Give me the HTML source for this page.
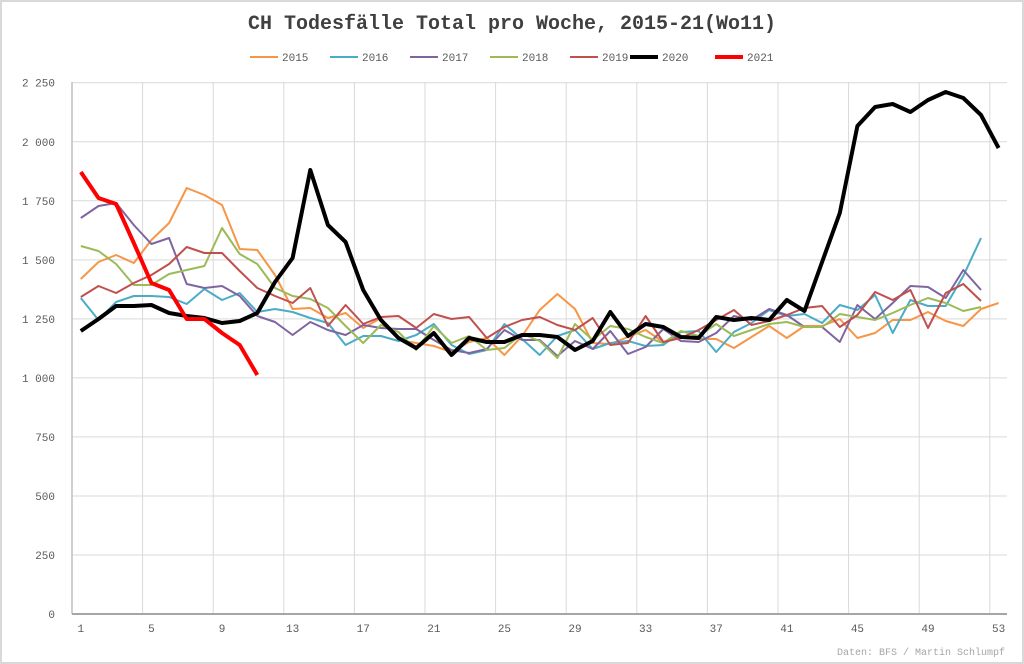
<!DOCTYPE html>
<html><head><meta charset="utf-8"><style>
body{margin:0;background:#fff}
svg{display:block}
text{font-family:"Liberation Mono",monospace}
</style></head><body>
<svg id="c" width="1024" height="664" viewBox="0 0 1024 664" xmlns="http://www.w3.org/2000/svg">
<rect x="1" y="1" width="1022" height="662" fill="#fff" stroke="#d9d9d9" stroke-width="2"/>
<text x="512" y="29" text-anchor="middle" font-size="20" font-weight="bold" fill="#404040">CH Todesfälle Total pro Woche, 2015-21(Wo11)</text>
<g id="grid"></g>
<g id="lines" fill="none" stroke-linejoin="round"></g>
<g id="legend" font-size="11" fill="#595959"></g>
<text x="1005" y="655" text-anchor="end" font-size="10" fill="#a6a6a6">Daten: BFS / Martin Schlumpf</text>
</svg>
<script>
var ns="http://www.w3.org/2000/svg";
function el(p,t,a,txt){var e=document.createElementNS(ns,t);for(var k in a)e.setAttribute(k,a[k]);if(txt!=null)e.textContent=txt;p.appendChild(e);return e;}
var g=document.getElementById('grid');
var X0=72,W=17.65;
for(var i=0;i<=9;i++){var y=614-i*59.03;
 if(i>0)el(g,'line',{x1:X0,x2:1007,y1:y,y2:y,stroke:'#d9d9d9','stroke-width':1});
 var v=i*250;var s=v>=1000?(Math.floor(v/1000)+' '+String(v%1000).padStart(3,'0')):String(v);
 el(g,'text',{x:55,y:y+4,'text-anchor':'end','font-size':11,fill:'#595959'},s);}
for(var k=1;k<=13;k++){var x=X0+k*4*W;el(g,'line',{x1:x,x2:x,y1:82,y2:614,stroke:'#d9d9d9','stroke-width':1});}
for(var w=1;w<=53;w+=4){el(g,'text',{x:X0+(w-0.5)*W,y:632,'text-anchor':'middle','font-size':11,fill:'#595959'},String(w));}
el(g,'line',{x1:X0,x2:X0,y1:82,y2:614,stroke:'#bfbfbf','stroke-width':1.5});
el(g,'line',{x1:X0,x2:1007,y1:614,y2:614,stroke:'#a6a6a6','stroke-width':2});
var S=[
['2015','#f79646',2,[279,262,255,263,240,223,188,195,205,249,250,275,309,308,318,313,328,318,340,343,346,352,342,338,355,336,310,294,309,343,344,337,330,342,337,339,339,348,337,326,338,326,326,319,338,333,320,320,312,321,326,309,303]],
['2016','#4bacc6',2,[298,320,302,296,296,297,304,289,300,293,312,309,312,318,323,345,336,336,341,335,324,345,354,350,324,339,355,336,330,349,343,341,346,345,332,331,352,332,323,310,316,314,323,305,310,295,333,300,306,306,276,238]],
['2017','#8064a2',2,[218,206,203,225,244,238,284,288,286,296,316,322,335,322,330,335,325,328,329,329,340,350,353,349,330,340,340,356,341,349,331,354,347,329,341,342,333,316,320,309,315,327,327,342,305,319,303,286,287,298,270,290]],
['2018','#9bbb59',2,[246,251,264,285,285,274,270,266,228,254,264,288,296,299,308,326,343,325,332,350,326,343,336,350,348,334,341,358,324,340,326,329,337,343,331,336,324,336,330,324,322,327,327,314,317,320,313,305,298,303,311,307]],
['2019','#c0504d',2,[297,286,293,283,275,264,247,253,253,271,288,296,303,288,326,305,324,317,316,328,314,319,317,338,327,320,317,325,330,318,345,343,316,342,338,330,320,310,325,321,315,308,306,327,315,292,300,290,328,293,284,301]],
['2020','#000000',4,[331,319,306,306,305,313,316,318,323,321,313,282,258,170,225,242,290,320,338,348,333,355,338,342,342,335,335,337,350,341,312,336,324,327,337,338,317,320,318,320,300,311,262,213,126,107,104,112,100,92,98,115,148]],
['2021','#ff0000',4,[172,198,204,243,283,290,319,319,333,345,375]]];
var L=document.getElementById('lines'),lg=document.getElementById('legend');
var lx=[250,330,410,490,570,630,715];
S.forEach(function(s,i){
 var pts=s[3].map(function(y,j){return (X0+(j+0.5)*W).toFixed(1)+','+y;}).join(' ');
 el(L,'polyline',{points:pts,stroke:s[1],'stroke-width':s[2]});
 var x=lx[i];el(lg,'line',{x1:x,x2:x+28,y1:57,y2:57,stroke:s[1],'stroke-width':s[2]});
 el(lg,'text',{x:x+32,y:61},s[0]);
});
</script>
</body></html>
